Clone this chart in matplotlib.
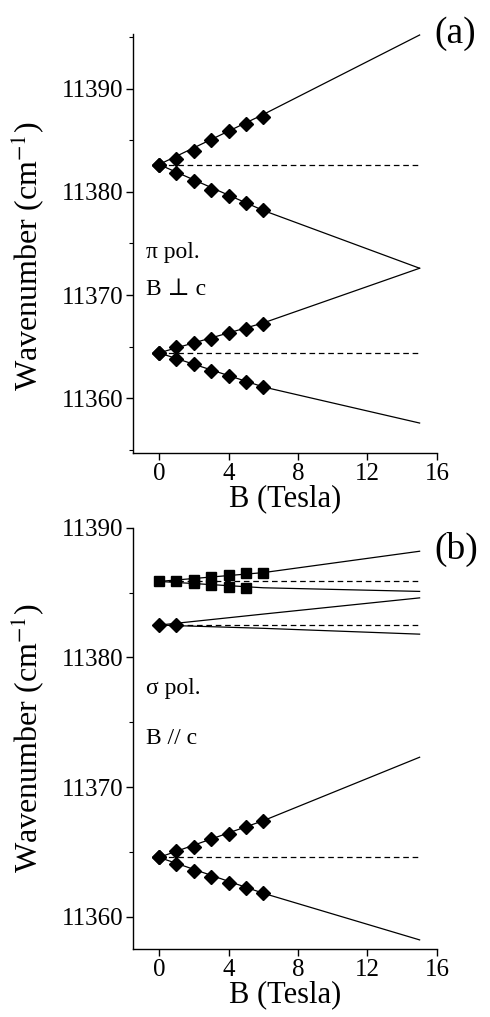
import matplotlib

matplotlib.use("Agg")
import matplotlib.pyplot as plt
from matplotlib.ticker import MultipleLocator

# ---- data ----
B_PTS = [0, 1, 2, 3, 4, 5, 6]
B_FIT = [0, 6, 15]

# (a) pi polarisation, B perpendicular to c
A_HI_UP = [11382.65, 11383.22, 11383.96, 11385.06, 11385.87, 11386.61, 11387.25]
A_HI_DN = [11382.65, 11381.83, 11381.06, 11380.22, 11379.57, 11378.96, 11378.29]
A_LO_UP = [11364.4, 11364.93, 11365.37, 11365.73, 11366.28, 11366.67, 11367.18]
A_LO_DN = [11364.4, 11363.77, 11363.28, 11362.66, 11362.15, 11361.6, 11361.11]
A_FIT_HI_UP = [11382.65, 11387.5, 11395.2]
A_FIT_HI_DN = [11382.65, 11378.2, 11372.6]
A_FIT_LO_UP = [11364.4, 11367.3, 11372.6]
A_FIT_LO_DN = [11364.4, 11361.1, 11357.6]
A_ZERO = [11382.65, 11364.4]

# (b) sigma polarisation, B parallel to c
B_SQ_UP = [11385.87, 11385.87, 11386.0, 11386.25, 11386.36, 11386.5, 11386.55]
B_SQ_DN_B = [2, 3, 4, 5]
B_SQ_DN = [11385.75, 11385.59, 11385.41, 11385.4]
B_DI_B = [0, 1]
B_DI = [11382.5, 11382.5]
B_LO_UP = [11364.57, 11365.05, 11365.38, 11365.95, 11366.41, 11366.92, 11367.36]
B_LO_DN = [11364.57, 11364.03, 11363.52, 11363.08, 11362.62, 11362.23, 11361.8]
B_FIT_SQ_UP = [11385.87, 11386.55, 11388.2]
B_FIT_SQ_DN = [11385.87, 11385.38, 11385.1]
B_FIT_DI_UP = [11382.5, 11383.35, 11384.6]
B_FIT_DI_DN = [11382.5, 11382.25, 11381.8]
B_FIT_LO_UP = [11364.57, 11367.4, 11372.3]
B_FIT_LO_DN = [11364.57, 11361.8, 11358.2]
B_ZERO = [11385.87, 11382.5, 11364.57]

XTICKS = [0, 4, 8, 12, 16]

plt.rcParams["font.family"] = ["Liberation Serif", "DejaVu Serif"]
plt.rcParams["mathtext.fontset"] = "stix"

FIT_KW = dict(color="black", linewidth=0.9)
DASH_KW = dict(color="black", linewidth=0.9, linestyle=(0, (4.5, 3)))
DIAMOND_KW = dict(linestyle="none", marker="D", color="black", markersize=7.5)
SQUARE_KW = dict(linestyle="none", marker="s", color="black", markersize=6.8)


def style_axis(ax: plt.Axes, ylim: tuple[float, float], label_y: float) -> None:
    ax.set_xlim(-1.5, 16)
    ax.set_ylim(*ylim)
    ax.set_xticks(XTICKS)
    ax.yaxis.set_major_locator(MultipleLocator(10))
    ax.yaxis.set_minor_locator(MultipleLocator(5))
    ax.spines["top"].set_visible(False)
    ax.spines["right"].set_visible(False)
    for side in ("left", "bottom"):
        ax.spines[side].set_linewidth(1.0)
    ax.tick_params(which="major", direction="out", length=5, width=1.0, labelsize=18, pad=2)
    ax.tick_params(which="minor", direction="out", length=3, width=0.8)
    ax.set_xlabel("B (Tesla)", fontsize=22, labelpad=0)
    ax.set_ylabel("Wavenumber (cm$^{-1}$)", fontsize=23)
    ax.yaxis.set_label_coords(-0.285, label_y)
    ax.ticklabel_format(axis="y", useOffset=False)


fig = plt.figure(figsize=(4.9, 10.17), dpi=100, facecolor="white")
ax_a = fig.add_axes([0.2714, 0.5546, 0.6204, 0.412])
ax_b = fig.add_axes([0.2714, 0.0669, 0.6204, 0.414])

# panel (a)
for fit in (A_FIT_HI_UP, A_FIT_HI_DN, A_FIT_LO_UP, A_FIT_LO_DN):
    ax_a.plot(B_FIT, fit, **FIT_KW)
for level in A_ZERO:
    ax_a.plot([B_FIT[0], B_FIT[-1]], [level, level], **DASH_KW)
for pts in (A_HI_UP, A_HI_DN, A_LO_UP, A_LO_DN):
    ax_a.plot(B_PTS, pts, **DIAMOND_KW)
style_axis(ax_a, (11354.7, 11395.3), 0.47)
ax_a.text(-0.75, 11373.6, "π pol.", fontsize=17, va="baseline")
ax_a.text(-0.75, 11370.0, "B ⊥ c", fontsize=17, va="baseline")
ax_a.text(0.99, 1.0, "(a)", transform=ax_a.transAxes, fontsize=27,
          ha="left", va="center")

# panel (b)
for fit in (B_FIT_SQ_UP, B_FIT_SQ_DN, B_FIT_DI_UP, B_FIT_DI_DN, B_FIT_LO_UP, B_FIT_LO_DN):
    ax_b.plot(B_FIT, fit, **FIT_KW)
for level in B_ZERO:
    ax_b.plot([B_FIT[0], B_FIT[-1]], [level, level], **DASH_KW)
ax_b.plot(B_PTS, B_SQ_UP, **SQUARE_KW)
ax_b.plot(B_SQ_DN_B, B_SQ_DN, **SQUARE_KW)
ax_b.plot(B_DI_B, B_DI, **DIAMOND_KW)
ax_b.plot(B_PTS, B_LO_UP, **DIAMOND_KW)
ax_b.plot(B_PTS, B_LO_DN, **DIAMOND_KW)
style_axis(ax_b, (11357.5, 11390), 0.5)
ax_b.text(-0.75, 11377.15, "σ pol.", fontsize=17, va="baseline")
ax_b.text(-0.75, 11373.3, "B // c", fontsize=17, va="baseline")
ax_b.text(0.99, 0.95, "(b)", transform=ax_b.transAxes, fontsize=27,
          ha="left", va="center")

fig.savefig("out.png", dpi=100)
plt.close(fig)
